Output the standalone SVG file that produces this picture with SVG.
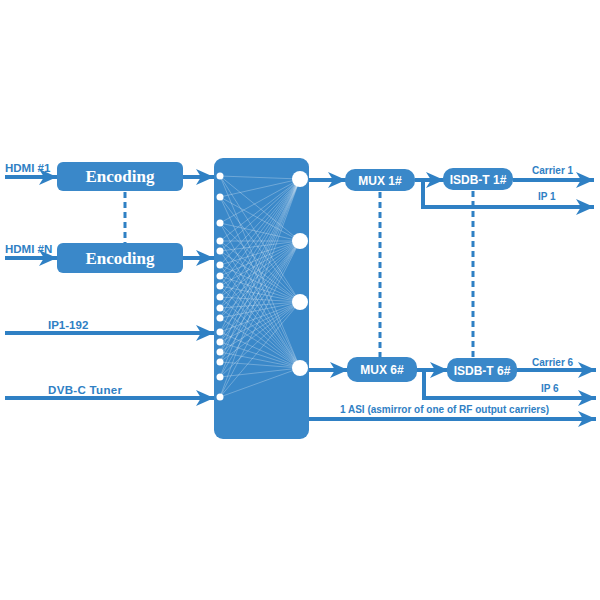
<svg xmlns="http://www.w3.org/2000/svg" width="600" height="600" viewBox="0 0 600 600">
<defs>
<style>
.ln{stroke:#2f80c4;stroke-width:4;fill:none}
.ar{stroke:#2f80c4;stroke-width:4;fill:none;marker-end:url(#ah)}
.dash{stroke:#2f80c4;stroke-width:3;stroke-dasharray:6,4;fill:none}
.box{fill:#3a88c9}
.lbl{font-family:"Liberation Sans",Arial,sans-serif;font-weight:bold;font-size:11.5px;fill:#2f80c4}
.sm{font-size:10px}
.enc{font-family:"Liberation Serif","Times New Roman",serif;font-weight:bold;font-size:17px;fill:#ffffff}
.bt{font-family:"Liberation Sans",Arial,sans-serif;font-weight:bold;font-size:12px;fill:#ffffff}
.mx{stroke:#ffffff;stroke-width:0.6;stroke-opacity:0.45}
.sc{fill:#ffffff}
</style>
<marker id="ah" markerUnits="userSpaceOnUse" markerWidth="20" markerHeight="18" refX="18" refY="8" orient="auto">
<path d="M0,0 L18,8 L0,16 L5,8 Z" fill="#2f80c4"/>
</marker>
</defs>
<rect width="600" height="600" fill="#ffffff"/>
<g id="connectors">
<line class="ar" x1="5" y1="177" x2="57" y2="177"/>
<line class="ar" x1="5" y1="258" x2="57" y2="258"/>
<line class="ar" x1="183" y1="177" x2="214" y2="177"/>
<line class="ar" x1="183" y1="258" x2="214" y2="258"/>
<line class="dash" x1="125" y1="192" x2="125" y2="243"/>
<line class="ar" x1="5" y1="333" x2="214" y2="333"/>
<line class="ar" x1="5" y1="398" x2="214" y2="398"/>
<line class="ar" x1="308" y1="180" x2="346" y2="180"/>
<line class="ar" x1="415" y1="180" x2="444" y2="180"/>
<polyline class="ar" points="423,180 423,207 594,207"/>
<line class="ar" x1="513" y1="180" x2="594" y2="180"/>
<line class="dash" x1="380" y1="192" x2="380" y2="357"/>
<line class="dash" x1="473" y1="191" x2="473" y2="358"/>
<line class="ar" x1="308" y1="370" x2="348" y2="370"/>
<line class="ar" x1="417" y1="370" x2="448" y2="370"/>
<polyline class="ar" points="424,370 424,398 596,398"/>
<line class="ar" x1="517" y1="370" x2="596" y2="370"/>
<line class="ar" x1="308" y1="419" x2="596" y2="419"/>
</g>
<g id="enc1">
<rect class="box" x="57" y="162" width="126" height="29" rx="6"/>
<text class="enc" x="120" y="182" text-anchor="middle">Encoding</text>
</g>
<g id="enc2">
<rect class="box" x="57" y="243" width="126" height="30" rx="6"/>
<text class="enc" x="120" y="264" text-anchor="middle">Encoding</text>
</g>
<g id="labels">
<text class="lbl" x="5" y="172">HDMI #1</text>
<text class="lbl" x="5" y="253">HDMI #N</text>
<text class="lbl" x="48" y="329">IP1-192</text>
<text class="lbl" x="48" y="394" textLength="74">DVB-C Tuner</text>
<text class="lbl sm" x="532" y="174">Carrier 1</text>
<text class="lbl sm" x="538" y="200">IP 1</text>
<text class="lbl sm" x="532" y="366">Carrier 6</text>
<text class="lbl sm" x="541" y="392">IP 6</text>
<text class="lbl sm" x="340" y="413">1 ASI (asmirror of one of RF output carriers)</text>
</g>
<g id="matrix">
<rect class="box" x="214" y="158" width="95" height="281" rx="9"/>
<g id="matrix-lines">
<path class="mx" d="M220,176 L300,179 M220,176 L300,241 M220,176 L300,302 M220,176 L300,368
M220,197 L300,179 M220,197 L300,241 M220,197 L300,302 M220,197 L300,368
M220,223 L300,179 M220,223 L300,241 M220,223 L300,302 M220,223 L300,368
M220,241 L300,179 M220,241 L300,241 M220,241 L300,302 M220,241 L300,368
M220,251 L300,179 M220,251 L300,241 M220,251 L300,302 M220,251 L300,368
M220,265 L300,179 M220,265 L300,241 M220,265 L300,302 M220,265 L300,368
M220,276 L300,179 M220,276 L300,241 M220,276 L300,302 M220,276 L300,368
M220,286 L300,179 M220,286 L300,241 M220,286 L300,302 M220,286 L300,368
M220,297 L300,179 M220,297 L300,241 M220,297 L300,302 M220,297 L300,368
M220,308 L300,179 M220,308 L300,241 M220,308 L300,302 M220,308 L300,368
M220,318 L300,179 M220,318 L300,241 M220,318 L300,302 M220,318 L300,368
M220,332 L300,179 M220,332 L300,241 M220,332 L300,302 M220,332 L300,368
M220,342 L300,179 M220,342 L300,241 M220,342 L300,302 M220,342 L300,368
M220,352 L300,179 M220,352 L300,241 M220,352 L300,302 M220,352 L300,368
M220,362 L300,179 M220,362 L300,241 M220,362 L300,302 M220,362 L300,368
M220,377 L300,179 M220,377 L300,241 M220,377 L300,302 M220,377 L300,368
M220,397 L300,179 M220,397 L300,241 M220,397 L300,302 M220,397 L300,368"/>
</g>
<g id="inputs">
<circle class="sc" cx="220" cy="176" r="3.5"/>
<circle class="sc" cx="220" cy="197" r="3.5"/>
<circle class="sc" cx="220" cy="223" r="3.5"/>
<circle class="sc" cx="220" cy="241" r="3.5"/>
<circle class="sc" cx="220" cy="251" r="3.5"/>
<circle class="sc" cx="220" cy="265" r="3.5"/>
<circle class="sc" cx="220" cy="276" r="3.5"/>
<circle class="sc" cx="220" cy="286" r="3.5"/>
<circle class="sc" cx="220" cy="297" r="3.5"/>
<circle class="sc" cx="220" cy="308" r="3.5"/>
<circle class="sc" cx="220" cy="318" r="3.5"/>
<circle class="sc" cx="220" cy="332" r="3.5"/>
<circle class="sc" cx="220" cy="342" r="3.5"/>
<circle class="sc" cx="220" cy="352" r="3.5"/>
<circle class="sc" cx="220" cy="362" r="3.5"/>
<circle class="sc" cx="220" cy="377" r="3.5"/>
<circle class="sc" cx="220" cy="397" r="3.5"/>
</g>
<g id="outputs">
<circle class="sc" cx="300" cy="179" r="8"/>
<circle class="sc" cx="300" cy="241" r="8"/>
<circle class="sc" cx="300" cy="302" r="8"/>
<circle class="sc" cx="300" cy="368" r="8"/>
</g>
</g>
<g id="mux1">
<rect class="box" x="345" y="169" width="70" height="22" rx="10"/>
<text class="bt" x="380" y="185" text-anchor="middle">MUX 1#</text>
</g>
<g id="isdb1">
<rect class="box" x="443" y="168" width="70" height="22" rx="10"/>
<text class="bt" x="478" y="184" text-anchor="middle">ISDB-T 1#</text>
</g>
<g id="mux6">
<rect class="box" x="347" y="357" width="70" height="25" rx="10"/>
<text class="bt" x="382" y="374" text-anchor="middle">MUX 6#</text>
</g>
<g id="isdb6">
<rect class="box" x="447" y="358" width="70" height="24" rx="10"/>
<text class="bt" x="482" y="375" text-anchor="middle">ISDB-T 6#</text>
</g>
</svg>
